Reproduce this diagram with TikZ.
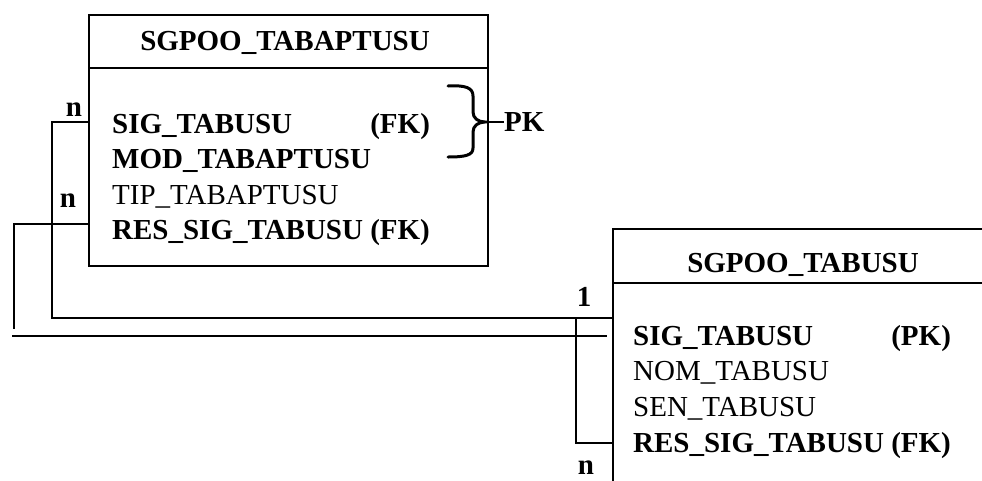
\documentclass[tikz,border=0pt]{standalone}
\usepackage{fontspec}
\setmainfont{Liberation Serif}
\begin{document}
\begin{tikzpicture}[x=1pt,y=-1pt,
  tbl/.style={draw,line width=2pt,inner sep=0pt,anchor=north west},
  conn/.style={line width=2pt},
  brc/.style={line width=3pt,line cap=round},
  txt/.style={inner sep=0pt,anchor=base west,font=\fontsize{29}{34}\selectfont},
  btxt/.style={txt,font=\fontsize{29}{34}\selectfont\bfseries},
  lbl/.style={inner sep=0pt,font=\fontsize{29}{34}\selectfont\bfseries}]
\useasboundingbox (0,0) rectangle (982,480);
\clip (0,0) rectangle (982,480);
% left table
\node[tbl,minimum width=399pt,minimum height=251pt] (A) at (88,14) {};
\draw[conn] (88,68) -- (487,68);
\node[lbl] (At) at (285,43) {SGPOO\_TABAPTUSU};
\node[btxt] (a1) at (112,133) {SIG\_TABUSU};
\node[btxt] (a2) at (112,168.5) {MOD\_TABAPTUSU};
\node[txt]  (a3) at (112,204) {TIP\_TABAPTUSU};
\node[btxt] (a4) at (112,239.5) {RES\_SIG\_TABUSU (FK)};
\node[btxt,anchor=base east] (a1k) at (a4.east |- a1.base) {(FK)};
% right table
\node[tbl,minimum width=420pt,minimum height=300pt] (B) at (612,228) {};
\draw[conn] (612,283) -- (1040,283);
\node[lbl,anchor=base] (Bt) at (803,272) {SGPOO\_TABUSU};
\node[btxt] (b1) at (633,345) {SIG\_TABUSU};
\node[txt]  (b2) at (633,380.7) {NOM\_TABUSU};
\node[txt]  (b3) at (633,416.3) {SEN\_TABUSU};
\node[btxt] (b4) at (633,452) {RES\_SIG\_TABUSU (FK)};
\node[btxt,anchor=base east] (b1k) at (b4.east |- b1.base) {(PK)};
% connector end points
\coordinate (pA1) at (88,122);
\coordinate (pA2) at (88,224);
\coordinate (pB1) at (612,318);
\coordinate (pB2) at (607,336);
\coordinate (pB4) at (612,443);
\coordinate (c1) at (52,318);
\coordinate (c2) at (14,329);
\coordinate (c2b) at (12,336);
\coordinate (c3) at (576,318);
\draw[conn] (pA1) -| (c1) -- (pB1);
\draw[conn] (pA2) -| (c2);
\draw[conn] (c2b) -- (pB2);
\draw[conn] (pB4) -| (c3);
% cardinalities
\node[lbl] (n1) at (74,110) {n};
\node[lbl] (n2) at (68,201) {n};
\node[lbl] (o1) at (584,297) {1};
\node[lbl,anchor=base] (n3) at (586,474) {n};
% brace
\coordinate (bt) at (485,122);
\draw[brc] (448,86) .. controls (466,85) and (473,88) .. (473,96) -- (473,112)
  .. controls (473,118) and (478,122) .. (bt)
  .. controls (478,122) and (473,126) .. (473,132) -- (473,148)
  .. controls (473,155) and (466,157) .. (448,157);
\node[lbl,anchor=west] (pk) at (504,122) {PK};
\draw[conn] (bt) -- (pk.west);
\end{tikzpicture}
\end{document}
